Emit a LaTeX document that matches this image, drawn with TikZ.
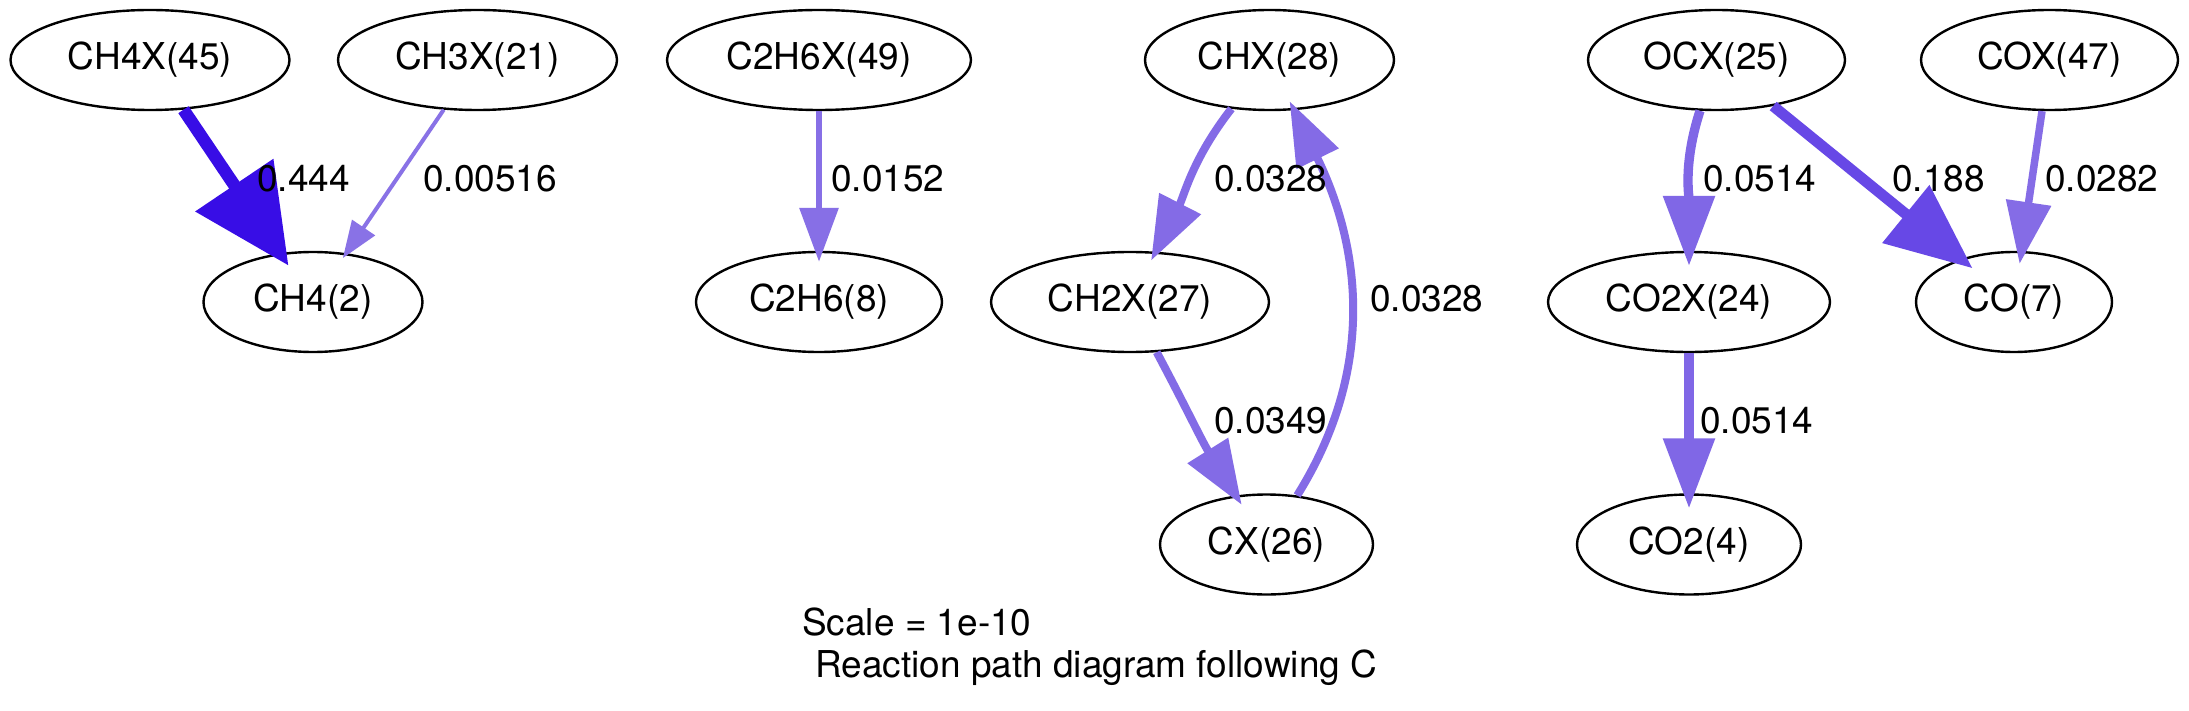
\documentclass[tikz,border=0pt]{standalone}
\usepackage{fontspec}
\setmainfont{TeX Gyre Heros}
\usetikzlibrary{arrows.meta,shapes.geometric}
\newcommand\dfs{\fontsize{37pt}{42pt}\selectfont}
\definecolor{fA}{RGB}{56,13,230}   % 0.444
\definecolor{fB}{RGB}{103,72,230}  % 0.188
\definecolor{fC}{RGB}{128,103,230} % 0.0514
\definecolor{fD}{RGB}{131,107,230} % 0.0349
\definecolor{fE}{RGB}{132,107,230} % 0.0328
\definecolor{fF}{RGB}{133,108,230} % 0.0282
\definecolor{fG}{RGB}{135,111,230} % 0.0152
\definecolor{fH}{RGB}{137,114,230} % 0.00516
\begin{document}
\begin{tikzpicture}[x=1pt,y=1pt,
  sp/.style={draw=black,line width=2.4pt,shape=ellipse,inner sep=0pt,minimum height=100pt,font=\dfs},
  lab/.style={anchor=base west,inner sep=0pt,font=\dfs},
  flux/.style n args={5}{draw=#1,line width=#2,-{Triangle[length=#3,width=#4]},shorten >=#5}]
\useasboundingbox[fill=white] (0,0) rectangle (2189,-711);
% species
\node[sp,minimum width=279pt] (ch4x)  at (150,-60)    {CH4X(45)};
\node[sp,minimum width=279pt] (ch3x)  at (477.5,-60)  {CH3X(21)};
\node[sp,minimum width=219pt] (ch4)   at (313,-302)   {CH4(2)};
\node[sp,minimum width=304pt] (c2h6x) at (819,-60)    {C2H6X(49)};
\node[sp,minimum width=246pt] (c2h6)  at (819,-302)   {C2H6(8)};
\node[sp,minimum width=249pt] (chx)   at (1269.5,-60) {CHX(28)};
\node[sp,minimum width=278pt] (ch2x)  at (1130,-302)  {CH2X(27)};
\node[sp,minimum width=213pt] (cx)    at (1266.5,-544.5) {CX(26)};
\node[sp,minimum width=257pt] (ocx)   at (1716.5,-60) {OCX(25)};
\node[sp,minimum width=282pt] (co2x)  at (1689,-302)  {CO2X(24)};
\node[sp,minimum width=224pt] (co2)   at (1689,-544.5) {CO2(4)};
\node[sp,minimum width=257pt] (cox)   at (2049.5,-60) {COX(47)};
\node[sp,minimum width=196pt] (co)    at (2014,-302)  {CO(7)};
% fluxes
\draw[flux={fA}{12.5pt}{97pt}{91pt}{-15pt}] (ch4x) -- (ch4);
\draw[flux={fH}{4pt}{37pt}{27pt}{-6pt}] (ch3x) -- (ch4);
\draw[flux={fG}{6.3pt}{54pt}{38pt}{-11pt}] (c2h6x) -- (c2h6);
\draw[flux={fE}{8pt}{64pt}{45pt}{-10pt}] (chx) to[out=232,in=63] (ch2x);
\draw[flux={fD}{8pt}{64pt}{46pt}{-11pt}] (ch2x) to[out=298,in=122] (cx);
\draw[flux={fE}{8pt}{64pt}{45pt}{-10pt}] (cx) to[out=58,in=296] (chx);
\draw[flux={fC}{9.3pt}{70pt}{50pt}{-15pt}] (ocx) to[out=252,in=90] (co2x);
\draw[flux={fB}{10.8pt}{86pt}{72pt}{-15pt}] (ocx) -- (co);
\draw[flux={fF}{7.5pt}{62pt}{44pt}{-13pt}] (cox) -- (co);
\draw[flux={fC}{9.3pt}{70pt}{50pt}{-15pt}] (co2x) -- (co2);
% labels
\node[lab] (l1) at (257,-192)  {0.444};
\node[lab] (l2) at (423,-192)  {0.00516};
\node[lab] (l3) at (831,-192)  {0.0152};
\node[lab] (l4) at (1214,-192) {0.0328};
\node[lab] (l5) at (1370,-312) {0.0328};
\node[lab] (l6) at (1214,-433) {0.0349};
\node[lab] (l7) at (1703,-192) {0.0514};
\node[lab] (l8) at (1892,-192) {0.188};
\node[lab] (l9) at (2045,-192) {0.0282};
\node[lab] (l10) at (1700,-433) {0.0514};
% legend (base anchor = last line)
\node[lab,align=left] (legend) at (802,-677) {Scale = 1e-10\\\hspace*{13pt}Reaction path diagram following C};
\end{tikzpicture}
\end{document}
